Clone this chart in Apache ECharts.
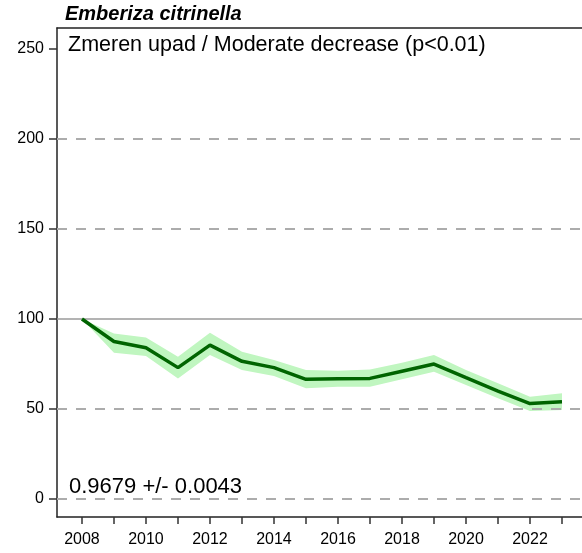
<!DOCTYPE html>
<html><head><meta charset="utf-8">
<script src="https://cdn.jsdelivr.net/npm/echarts@6/dist/echarts.min.js"></script>
<style>html,body{margin:0;padding:0;background:#fff}#c{width:582px;height:553px}</style>
</head><body><div id="c"></div>
<script>
const years = [2008,2009,2010,2011,2012,2013,2014,2015,2016,2017,2018,2019,2020,2021,2022,2023];
const index = [100,87.5,84,73,85.5,76.5,73,66.5,66.8,67,71,75,67.4,60,53,54];
const lower = [100,81.3,79.4,67,80,71.7,68.3,61.5,62.4,62.4,66.5,70.7,63.3,56,48.9,49.4];
const upper = [100,92,89.8,79,92.4,81.8,77.2,71.7,71.3,72,75.7,80,71.7,64.3,56.8,58.7];
const yTicks = [0,50,100,150,200,250];
const xTicks = years;
const xLabels = [2008,2010,2012,2014,2016,2018,2020,2022];
const dashedLines = [0,50,150,200];
const baseLine = [100];
const title = 'Emberiza citrinella';
const subtitle = 'Zmeren upad / Moderate decrease (p<0.01)';
const slopeText = '0.9679 +/- 0.0043';

const font = 'Liberation Sans, Arial, sans-serif';
const chart = echarts.init(document.getElementById('c'), null, {renderer:'canvas'});
const pair = (arr) => years.map((y,i)=>[y,arr[i]]);
const bandData = years.map((y,i)=>[y,lower[i],upper[i]]);
chart.setOption({
  animation:false,
  textStyle:{fontFamily:font},
  title:[
    {text:title,left:60,top:-1,textStyle:{fontFamily:font,fontSize:20,fontWeight:'bold',fontStyle:'italic',color:'#000'}},
    {text:subtitle,left:63,top:29,textStyle:{fontFamily:font,fontSize:21.5,fontWeight:'normal',color:'#000'}},
    {text:slopeText,left:64,top:471,textStyle:{fontFamily:font,fontSize:22,fontWeight:'normal',color:'#000'}}
  ],
  grid:{left:57,right:0,top:28,bottom:36,show:false,containLabel:false},
  xAxis:[{type:'value',min:2007.22,max:2023.625,
    axisLine:{show:true,onZero:false,lineStyle:{color:'#222',width:1.5}},
    axisTick:{show:true,customValues:xTicks,length:7,inside:false,lineStyle:{color:'#333',width:1.5}},
    axisLabel:{customValues:xLabels,fontSize:16,color:'#000',margin:15,fontFamily:font,formatter:v=>String(v)},
    splitLine:{show:false}},
    {type:'value',position:'top',min:2007.22,max:2023.625,
    axisLine:{show:true,onZero:false,lineStyle:{color:'#222',width:1.5}},
    axisTick:{show:false},axisLabel:{show:false},splitLine:{show:false}}],
  yAxis:{type:'value',min:-10,max:261.7,
    axisLine:{show:true,onZero:false,lineStyle:{color:'#222',width:1.5}},
    axisTick:{show:true,customValues:yTicks,length:8,lineStyle:{color:'#333',width:1.5}},
    axisLabel:{customValues:yTicks,fontSize:16,color:'#000',margin:13,fontFamily:font},
    splitLine:{show:false}},
  series:[
    {type:'custom',data:bandData,silent:true,z:1,
     renderItem:(params,api)=>{
       if(params.dataIndex!==0) return null;
       const top = bandData.map(d=>api.coord([d[0],d[2]]));
       const bot = bandData.map(d=>api.coord([d[0],d[1]])).reverse();
       return {type:'polygon',shape:{points:top.concat(bot)},style:{fill:'#c0f6c0',stroke:null}};
     }},
    {type:'line',data:pair(index),symbol:'none',lineStyle:{opacity:0},z:2,silent:true,
     markLine:{silent:true,symbol:'none',label:{show:false},z:2,
       data:[...dashedLines.map(v=>({yAxis:v,lineStyle:{type:[10,9],color:'#acacac',width:2}})),
             ...baseLine.map(v=>({yAxis:v,lineStyle:{type:'solid',color:'#9a9a9a',width:1.5}}))]}},
    {type:'line',data:pair(index),symbol:'none',lineStyle:{color:'#006400',width:3.5},z:5}
  ]
});
</script></body></html>
